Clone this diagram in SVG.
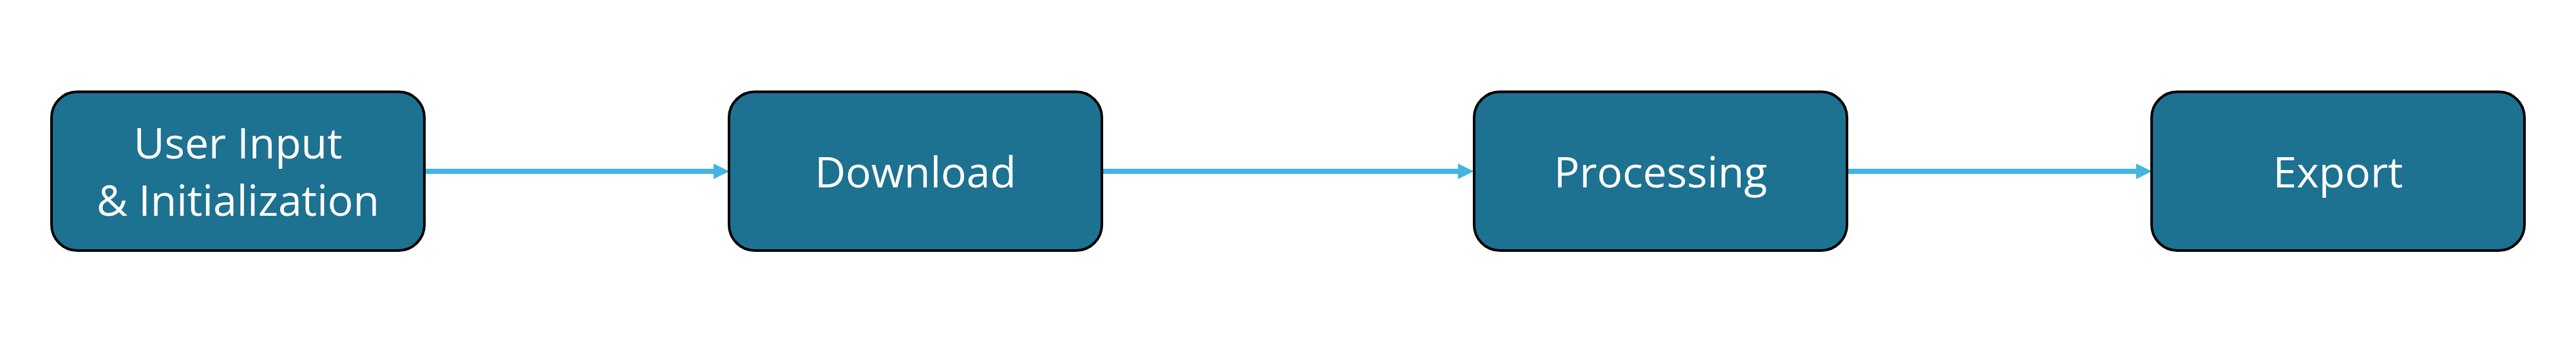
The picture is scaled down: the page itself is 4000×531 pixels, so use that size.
<svg xmlns="http://www.w3.org/2000/svg" width="4000" height="531" viewBox="0 0 4000 531">
<defs>
<style>
.box{fill:#1D7191;stroke:#000;stroke-width:4}
.lbl{fill:#fff;font-family:"Open Sans","Noto Sans","Liberation Sans",sans-serif;font-size:66px;text-anchor:middle}
.conn{stroke:#44B4E0;stroke-width:8;fill:none}
</style>
<marker id="ah" markerUnits="userSpaceOnUse" markerWidth="25" markerHeight="25" refX="0" refY="12" orient="auto" viewBox="0 0 25 24">
<path d="M0,0 L24.5,12 L0,24 z" fill="#44B4E0"/>
</marker>
</defs>
<rect width="4000" height="531" fill="#fff"/>
<g id="connectors">
<line class="conn" x1="661" y1="266" x2="1108" y2="266" marker-end="url(#ah)"/>
<line class="conn" x1="1713" y1="266" x2="2264" y2="266" marker-end="url(#ah)"/>
<line class="conn" x1="2870" y1="266" x2="3317" y2="266" marker-end="url(#ah)"/>
</g>
<g id="node-input">
<rect class="box" x="80" y="142.5" width="579" height="246.5" rx="40" ry="40"/>
<text class="lbl" x="369.5" y="246">User Input</text>
<text class="lbl" x="369.5" y="335">&amp; Initialization</text>
</g>
<g id="node-download">
<rect class="box" x="1132" y="142.5" width="579" height="246.5" rx="40" ry="40"/>
<text class="lbl" x="1421.5" y="291">Download</text>
</g>
<g id="node-processing">
<rect class="box" x="2289" y="142.5" width="579" height="246.5" rx="40" ry="40"/>
<text class="lbl" x="2578.5" y="291">Processing</text>
</g>
<g id="node-export">
<rect class="box" x="3341" y="142.5" width="579" height="246.5" rx="40" ry="40"/>
<text class="lbl" x="3630.5" y="291">Export</text>
</g>
</svg>
